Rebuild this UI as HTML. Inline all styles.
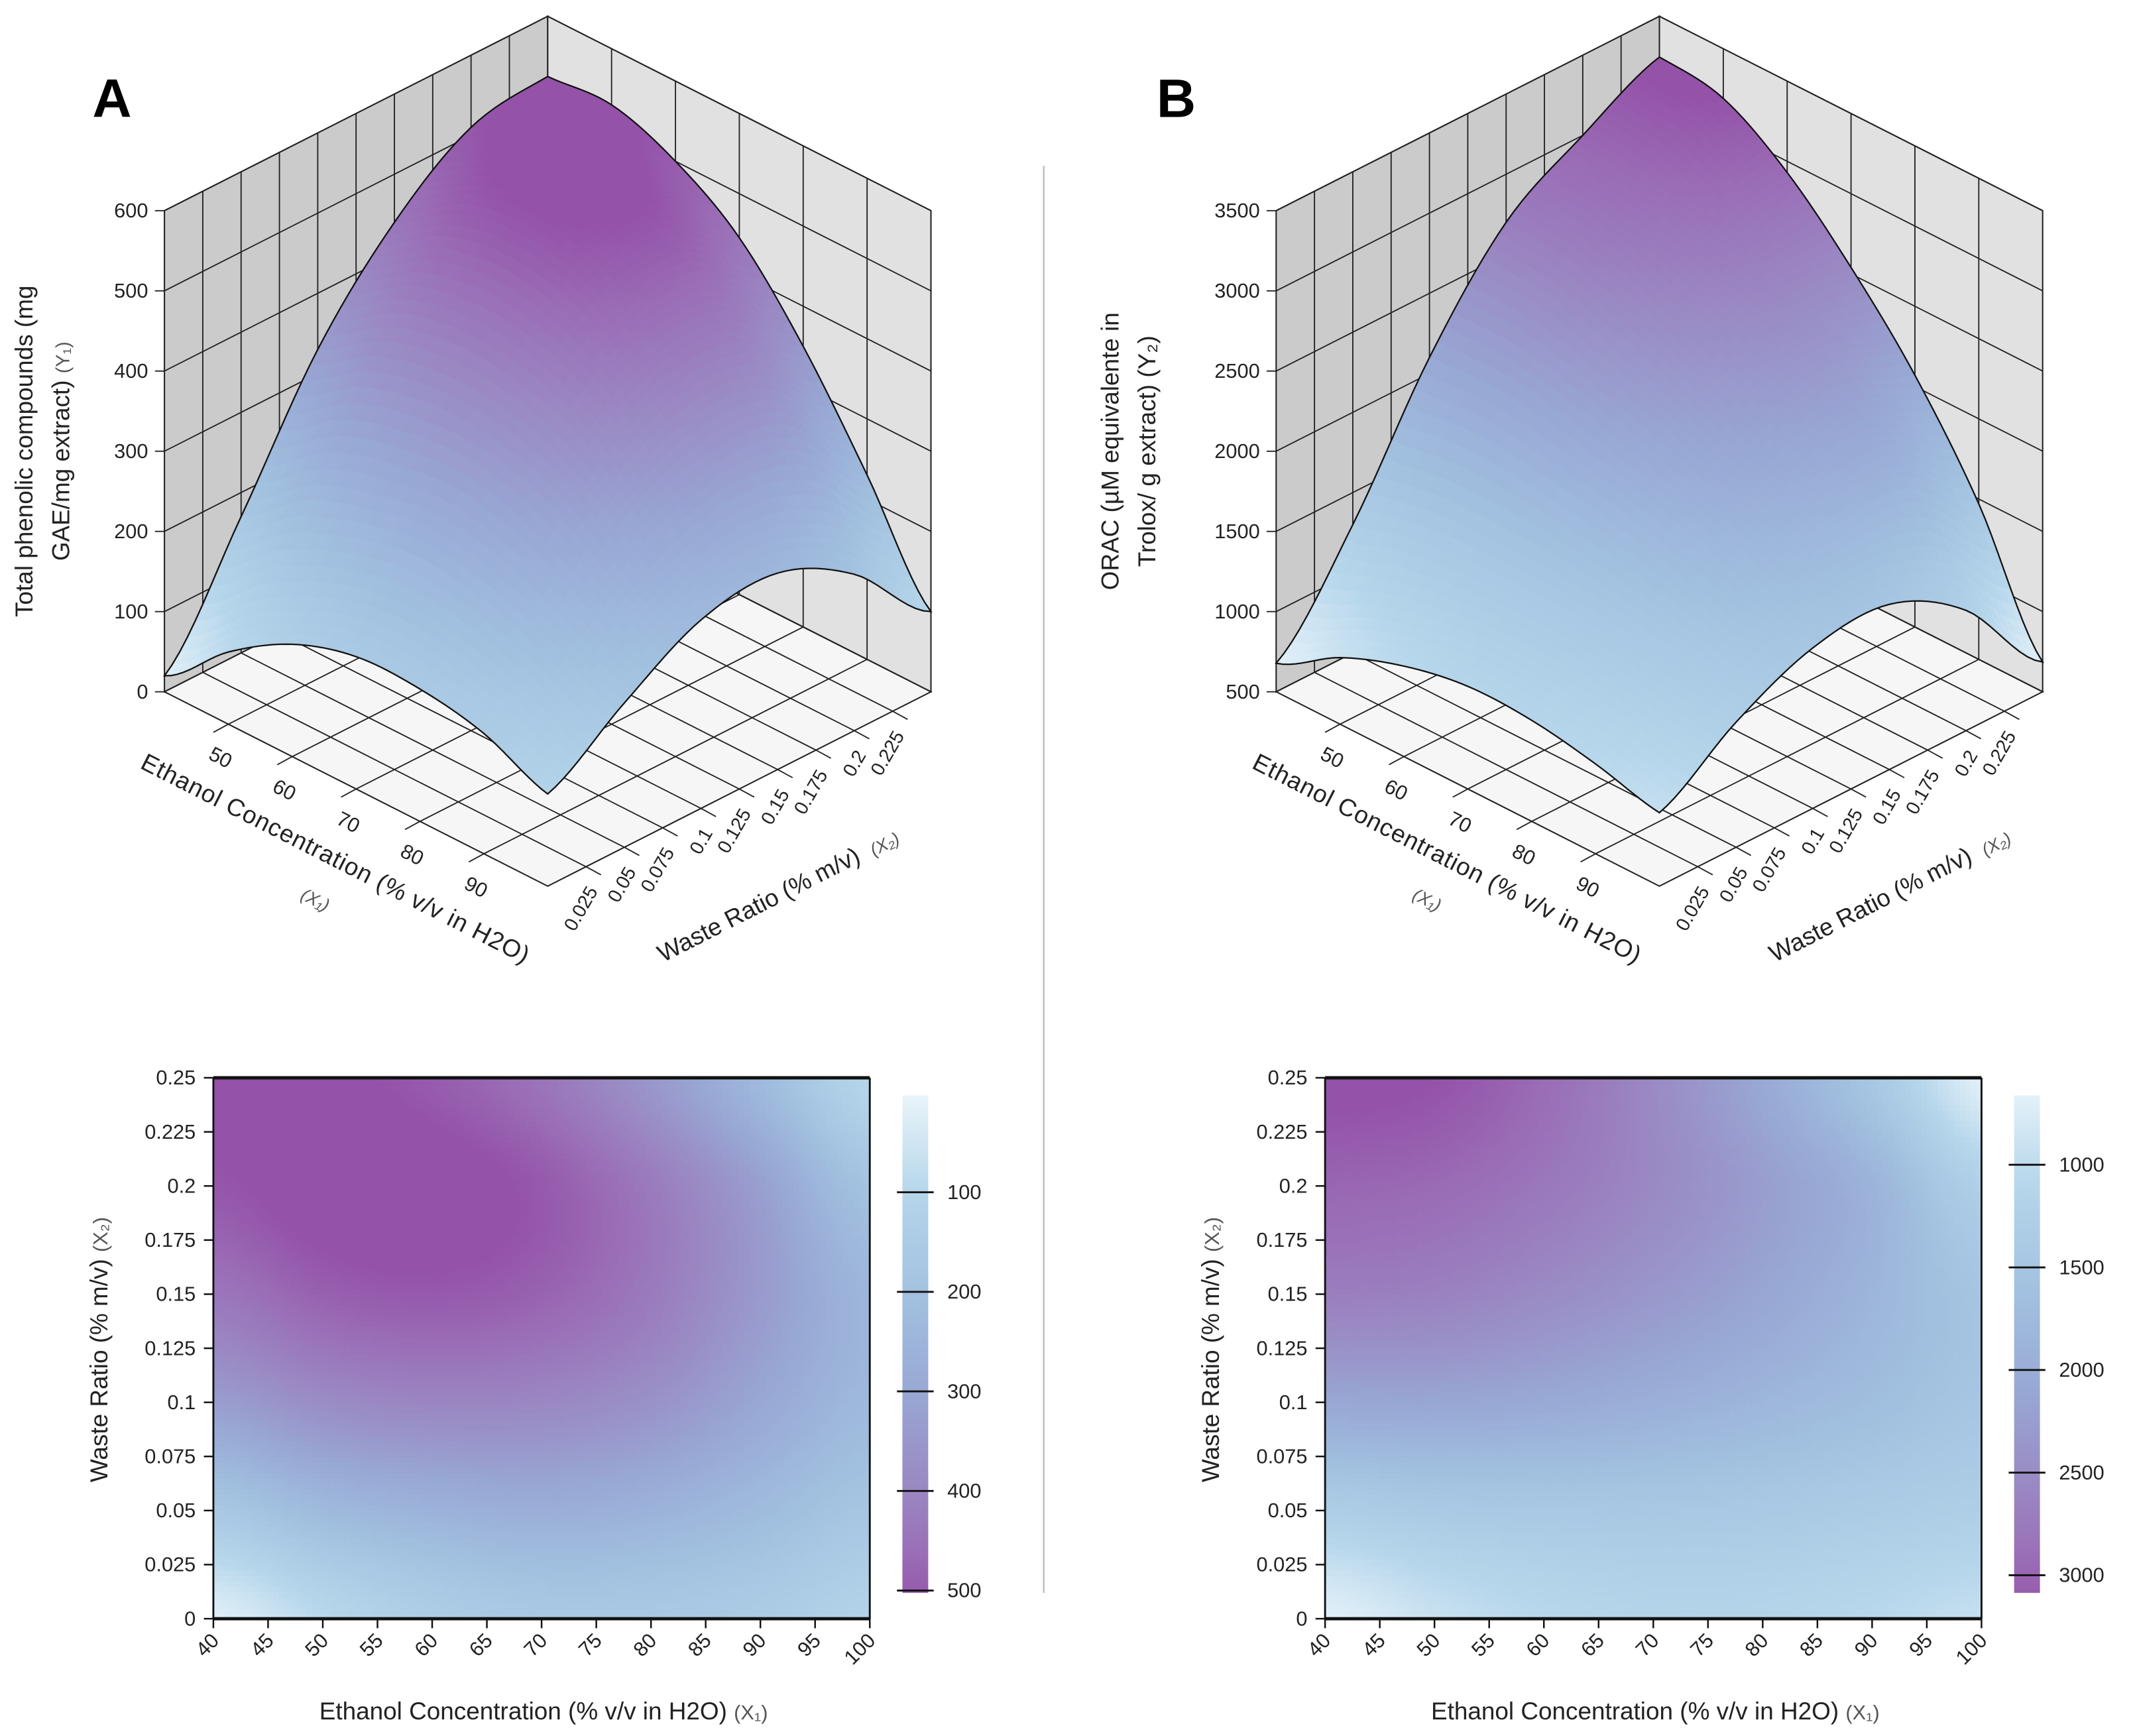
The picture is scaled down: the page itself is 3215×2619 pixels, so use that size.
<!DOCTYPE html>
<html><head><meta charset="utf-8">
<style>
html,body{margin:0;padding:0;background:#fff;}
svg{display:block;font-family:"Liberation Sans",Arial,sans-serif;}
</style></head>
<body>
<svg id="fig" xmlns="http://www.w3.org/2000/svg" width="3215" height="2619" viewBox="0 0 1568 1277.3" preserveAspectRatio="none">
<defs>
<linearGradient id="cbA" x1="0" y1="0" x2="0" y2="1"></linearGradient>
<linearGradient id="cbB" x1="0" y1="0" x2="0" y2="1"></linearGradient>
</defs>
<rect x="0" y="0" width="1568" height="1278" fill="#fff"/>
<line x1="768" y1="122" x2="768" y2="1172" stroke="#bdbdbd" stroke-width="1.2"/>
<text x="68" y="86" font-size="40" font-weight="bold">A</text>
<text x="851" y="86" font-size="40" font-weight="bold">B</text>
<g id="layer3dA"></g>
<g id="layer3dB"></g>
<g id="layerHA"></g>
<g id="layerHB"></g>

<text transform="translate(24,332) rotate(-90)" text-anchor="middle" font-size="18" fill="#222">Total phenolic compounds (mg</text>
<text transform="translate(51,332) rotate(-90)" text-anchor="middle" font-size="18" fill="#222">GAE/mg extract) <tspan font-size="14" fill="#555">(Y₁)</tspan></text>
<text transform="translate(823,332) rotate(-90)" text-anchor="middle" font-size="18" fill="#222">ORAC (µM equivalente in</text>
<text transform="translate(850,332) rotate(-90)" text-anchor="middle" font-size="18" fill="#222">Trolox/ g extract) (Y₂)</text>

<text transform="translate(244,637) rotate(27)" text-anchor="middle" font-size="18" fill="#222" textLength="318">Ethanol Concentration (% v/v in H2O)</text>
<text transform="translate(230,666) rotate(27)" text-anchor="middle" font-size="13" font-style="italic" fill="#555">(X₁)</text>
<text transform="translate(561,671) rotate(-27)" text-anchor="middle" font-size="18" fill="#222">Waste Ratio (% m/v)</text>
<text transform="translate(653,625) rotate(-27)" text-anchor="middle" font-size="13" font-style="italic" fill="#555">(X₂)</text>

<text transform="translate(1062,637) rotate(27)" text-anchor="middle" font-size="18" fill="#222" textLength="318">Ethanol Concentration (% v/v in H2O)</text>
<text transform="translate(1048,666) rotate(27)" text-anchor="middle" font-size="13" font-style="italic" fill="#555">(X₁)</text>
<text transform="translate(1379,671) rotate(-27)" text-anchor="middle" font-size="18" fill="#222">Waste Ratio (% m/v)</text>
<text transform="translate(1471,625) rotate(-27)" text-anchor="middle" font-size="13" font-style="italic" fill="#555">(X₂)</text>

<text transform="translate(79,993) rotate(-90)" text-anchor="middle" font-size="18" fill="#222">Waste Ratio (% m/v) <tspan font-size="15" fill="#555">(X₂)</tspan></text>
<text x="400" y="1265" text-anchor="middle" font-size="18" fill="#222">Ethanol Concentration (% v/v in H2O) <tspan font-size="15" fill="#555">(X₁)</tspan></text>
<text transform="translate(897,993) rotate(-90)" text-anchor="middle" font-size="18" fill="#222">Waste Ratio (% m/v) <tspan font-size="15" fill="#555">(X₂)</tspan></text>
<text x="1218" y="1265" text-anchor="middle" font-size="18" fill="#222">Ethanol Concentration (% v/v in H2O) <tspan font-size="15" fill="#555">(X₁)</tspan></text>
</svg>

<script>
// ---- data ----
const ethanolVals = [40, 50, 60, 70, 80, 90, 100];
const wasteVals = [0, 0.05, 0.1, 0.15, 0.2, 0.25];
// rows = waste ratio (0 .. 0.25), columns = ethanol (40 .. 100)
const phenolicRow0   = [20, 90, 140, 165, 165, 150, 115];
const phenolicRow005 = [170, 230, 260, 275, 260, 225, 180];
const phenolicRow010 = [330, 380, 400, 395, 365, 300, 235];
const phenolicRow015 = [440, 490, 505, 485, 430, 340, 245];
const phenolicRow020 = [510, 540, 540, 505, 430, 325, 195];
const phenolicRow025 = [525, 530, 500, 445, 350, 230, 100];
const oracRow0   = [678, 915, 1064, 1140, 1130, 1060, 958];
const oracRow005 = [1300, 1400, 1440, 1450, 1420, 1350, 1280];
const oracRow010 = [2100, 2120, 2060, 1960, 1830, 1680, 1500];
const oracRow015 = [2700, 2660, 2520, 2340, 2120, 1850, 1530];
const oracRow020 = [3000, 2950, 2790, 2550, 2250, 1880, 1250];
const oracRow025 = [3246, 3190, 2930, 2540, 2070, 1470, 686];
const zTicksA = [0, 100, 200, 300, 400, 500, 600];
const zTicksB = [500, 1000, 1500, 2000, 2500, 3000, 3500];
const ethanolTicks3d = [50, 60, 70, 80, 90];
const wasteTicks3d = ["0.025", "0.05", "0.075", "0.1", "0.125", "0.15", "0.175", "0.2", "0.225"];
const heatXTicks = [40, 45, 50, 55, 60, 65, 70, 75, 80, 85, 90, 95, 100];
const heatYTicks = ["0", "0.025", "0.05", "0.075", "0.1", "0.125", "0.15", "0.175", "0.2", "0.225", "0.25"];
const cbTicksA = [100, 200, 300, 400, 500];
const cbTicksB = [1000, 1500, 2000, 2500, 3000];

const gridA = [phenolicRow0, phenolicRow005, phenolicRow010, phenolicRow015, phenolicRow020, phenolicRow025];
const gridB = [oracRow0, oracRow005, oracRow010, oracRow015, oracRow020, oracRow025];

const NS = "http://www.w3.org/2000/svg";
function mk(tag, parent, attrs) {
  const el = document.createElementNS(NS, tag);
  for (const k in attrs) el.setAttribute(k, attrs[k]);
  parent.appendChild(el);
  return el;
}
const stops = [[0,[234,245,251]],[0.19,[182,214,235]],[0.385,[162,194,224]],[0.577,[152,168,212]],[0.77,[154,134,194]],[0.9,[154,108,182]],[1,[148,82,168]]];
function cmap(t) {
  t = Math.max(0, Math.min(1, t));
  for (let i = 1; i < stops.length; i++) {
    if (t <= stops[i][0]) {
      const a = stops[i-1], b = stops[i], f = (t - a[0]) / (b[0] - a[0]);
      const c = a[1].map((v, k) => Math.round(v + (b[1][k] - v) * f));
      return "rgb(" + c.join(",") + ")";
    }
  }
  return "rgb(148,82,168)";
}
function cr(p0, p1, p2, p3, t) {
  return 0.5 * ((2*p1) + (-p0 + p2)*t + (2*p0 - 5*p1 + 4*p2 - p3)*t*t + (-p0 + 3*p1 - 3*p2 + p3)*t*t*t);
}
function interp(grid, e, w) {
  const ne = ethanolVals.length, nw = wasteVals.length;
  const fi = (e - ethanolVals[0]) / (ethanolVals[1] - ethanolVals[0]);
  const fj = (w - wasteVals[0]) / (wasteVals[1] - wasteVals[0]);
  let i = Math.min(Math.floor(fi), ne - 2), j = Math.min(Math.floor(fj), nw - 2);
  i = Math.max(0, i); j = Math.max(0, j);
  const ti = fi - i, tj = fj - j;
  const cl = (v, n) => Math.max(0, Math.min(n - 1, v));
  const rows = [];
  for (let dj = -1; dj <= 2; dj++) {
    const r = grid[cl(j + dj, nw)];
    rows.push(cr(r[cl(i-1,ne)], r[cl(i,ne)], r[cl(i+1,ne)], r[cl(i+2,ne)], ti));
  }
  return cr(rows[0], rows[1], rows[2], rows[3], tj);
}

const panels = [
  {id:"a", grid:gridA, off:0, zmin:0, zmax:600, zt:zTicksA, cmin:0, cmax:520, hx0:157, cbx:664, cbT:cbTicksA, cb0:804, cbS:0.7325, cbBase:0, g3:"layer3dA", gh:"layerHA", grad:"cbA"},
  {id:"b", grid:gridB, off:818, zmin:500, zmax:3500, zt:zTicksB, cmin:600, cmax:3200, hx0:975, cbx:1482, cbT:cbTicksB, cb0:857, cbS:0.151, cbBase:1000, g3:"layer3dB", gh:"layerHB", grad:"cbB"}
];

panels.forEach(p => {
  const zs = 354 / (p.zmax - p.zmin);
  const P = (e, w, z) => {
    const a = (100 - e) / 60, b = w / 0.25;
    return [p.off + 403 - 282*a + 282*b, 652 - 143*a - 143*b - (z - p.zmin) * zs];
  };
  const pts = arr => arr.map(q => q[0].toFixed(2) + "," + q[1].toFixed(2)).join(" ");
  const col = v => cmap((v - p.cmin) / (p.cmax - p.cmin));
  const g = document.getElementById(p.g3);
  const zTop = p.zmax;
  const lw = mk("polygon", g, {points: pts([P(40,0,p.zmin), P(40,0.25,p.zmin), P(40,0.25,zTop), P(40,0,zTop)]), fill:"#cbcbcb", stroke:"#222", "stroke-width":1});
  
  
  const rw = mk("polygon", g, {points: pts([P(40,0.25,p.zmin), P(100,0.25,p.zmin), P(100,0.25,zTop), P(40,0.25,zTop)]), fill:"#e1e1e1", stroke:"#222", "stroke-width":1});
  
  
  const fl = mk("polygon", g, {points: pts([P(40,0,p.zmin), P(40,0.25,p.zmin), P(100,0.25,p.zmin), P(100,0,p.zmin)]), fill:"#f6f6f6", stroke:"#222", "stroke-width":1});
  
  
  const gl = (A, B, name) => {
    const l = mk("line", g, {x1:A[0], y1:A[1], x2:B[0], y2:B[1], stroke:"#222", "stroke-width":0.9});
    
    
  };
  for (let k = 1; k < 10; k++) { const w = 0.025*k; gl(P(40,w,p.zmin), P(40,w,zTop), "left-wall-gridline"); gl(P(40,w,p.zmin), P(100,w,p.zmin), "floor-gridline"); }
  for (let k = 1; k < 6; k++) { const e = 40 + 10*k; gl(P(e,0.25,p.zmin), P(e,0.25,zTop), "right-wall-gridline"); gl(P(e,0,p.zmin), P(e,0.25,p.zmin), "floor-gridline"); }
  p.zt.forEach(z => {
    gl(P(40,0,z), P(40,0.25,z), "left-wall-gridline");
    gl(P(40,0.25,z), P(100,0.25,z), "right-wall-gridline");
    const q = P(40,0,z);
    gl([q[0]-7,q[1]], q, "z-tick");
    const t = mk("text", g, {x:q[0]-12, y:q[1]+5, "text-anchor":"end", "font-size":15, fill:"#222"});
    t.textContent = z;
    
    
  });
  const NE = 60, NW = 50;
  const Z = [];
  for (let j = 0; j <= NW; j++) { Z.push([]); for (let i = 0; i <= NE; i++) Z[j].push(interp(p.grid, 40 + 60*i/NE, 0.25*j/NW)); }
  const cells = [];
  for (let j = 0; j < NW; j++) for (let i = 0; i < NE; i++) cells.push([i, j, (NE - i - 0.5)/NE + (j + 0.5)/NW]);
  cells.sort((c1, c2) => c2[2] - c1[2]);
  const sg = mk("g", g, {});
  
  
  cells.forEach(c => {
    const i = c[0], j = c[1];
    const e0 = 40 + 60*i/NE, e1 = 40 + 60*(i+1)/NE, w0 = 0.25*j/NW, w1 = 0.25*(j+1)/NW;
    const zavg = (Z[j][i] + Z[j][i+1] + Z[j+1][i] + Z[j+1][i+1]) / 4;
    const cc = col(zavg);
    const poly = mk("polygon", sg, {points: pts([P(e0,w0,Z[j][i]), P(e1,w0,Z[j][i+1]), P(e1,w1,Z[j+1][i+1]), P(e0,w1,Z[j+1][i])]), fill:cc, stroke:cc, "stroke-width":0.7});
    
    
  });
  let d = "";
  const edge = [];
  for (let i = 0; i <= NE; i++) edge.push(P(40+60*i/NE, 0, Z[0][i]));
  for (let j = 0; j <= NW; j++) edge.push(P(100, 0.25*j/NW, Z[j][NE]));
  for (let i = NE; i >= 0; i--) edge.push(P(40+60*i/NE, 0.25, Z[NW][i]));
  for (let j = NW; j >= 0; j--) edge.push(P(40, 0.25*j/NW, Z[j][0]));
  edge.forEach((q, k) => { d += (k ? "L" : "M") + q[0].toFixed(2) + "," + q[1].toFixed(2); });
  const ol = mk("path", g, {d: d + "Z", fill:"none", stroke:"#111", "stroke-width":1.1});
  
  
  ethanolTicks3d.forEach(e => {
    const q = P(e, 0, p.zmin);
    gl(q, [q[0]-11, q[1]+6], "ethanol-tick");
    const t = mk("text", g, {transform:"translate(" + (q[0]-8) + "," + (q[1]+29) + ") rotate(27)", "text-anchor":"middle", "font-size":15, fill:"#222"});
    t.textContent = e;
    
    
  });
  wasteTicks3d.forEach(s => {
    const q = P(100, parseFloat(s), p.zmin);
    gl(q, [q[0]+11, q[1]+6], "waste-tick");
    const t = mk("text", g, {transform:"translate(" + (q[0]+9) + "," + (q[1]+18) + ") rotate(-60)", "text-anchor":"end", "font-size":14, fill:"#222"});
    t.textContent = s;
    
    
  });

  const h = document.getElementById(p.gh);
  const X0 = p.hx0, X1 = p.hx0 + 483, Y0 = 1191, Y1 = 793;
  const xs = e => X0 + (e - 40) / 60 * (X1 - X0);
  const ys = w => Y0 - w / 0.25 * (Y0 - Y1);
  const nx = 120, ny = 100, cw = (X1 - X0)/nx, ch = (Y0 - Y1)/ny;
  const hg = mk("g", h, {});
  
  
  for (let jj = 0; jj < ny; jj++) for (let ii = 0; ii < nx; ii++) {
    const e = 40 + 60*(ii+0.5)/nx, w = 0.25*(jj+0.5)/ny;
    const r = mk("rect", hg, {x:(xs(e)-cw/2).toFixed(2), y:(ys(w)-ch/2).toFixed(2), width:(cw+0.4).toFixed(2), height:(ch+0.4).toFixed(2), fill:col(interp(p.grid, e, w))});
    
    
  }
  const hl = (x1, y1, x2, y2, sw, name) => {
    const l = mk("line", h, {x1:x1, y1:y1, x2:x2, y2:y2, stroke:"#111", "stroke-width":sw});
    
    
  };
  hl(X0, Y1, X1, Y1, 2.4, "heatmap-frame-top");
  hl(X0, Y0, X1, Y0, 2.4, "heatmap-frame-bottom");
  hl(X0, Y1, X0, Y0, 1.4, "heatmap-frame-left");
  hl(X1, Y1, X1, Y0, 1.4, "heatmap-frame-right");
  heatYTicks.forEach(s => {
    const y = ys(parseFloat(s));
    hl(X0-7, y, X0, y, 1.2, "heatmap-y-tick");
    const t = mk("text", h, {x:X0-13, y:y+5, "text-anchor":"end", "font-size":15, fill:"#222"});
    t.textContent = s;
    
    
  });
  heatXTicks.forEach(e => {
    const x = xs(e);
    hl(x, Y0, x, Y0+7, 1.2, "heatmap-x-tick");
    const t = mk("text", h, {transform:"translate(" + (x+5) + "," + (Y0+17) + ") rotate(-45)", "text-anchor":"end", "font-size":15, fill:"#222"});
    t.textContent = e;
    
    
  });
  const grad = document.getElementById(p.grad);
  for (let k = 0; k <= 24; k++) {
    const y = 806 + (1172 - 806) * k / 24;
    const v = p.cbBase + (y - p.cb0) / p.cbS;
    mk("stop", grad, {offset: (k/24).toFixed(3), "stop-color": col(v)});
  }
  const cb = mk("rect", h, {x:p.cbx, y:806, width:19, height:366, fill:"url(#" + p.grad + ")"});
  
  
  p.cbT.forEach(v => {
    const y = p.cb0 + (v - p.cbBase) * p.cbS;
    hl(p.cbx-4, y, p.cbx+23, y, 1.4, "colorbar-tick");
    const t = mk("text", h, {x:p.cbx+33, y:y+5, "font-size":15, fill:"#222"});
    t.textContent = v;
    
    
  });
});
</script>
</body></html>
